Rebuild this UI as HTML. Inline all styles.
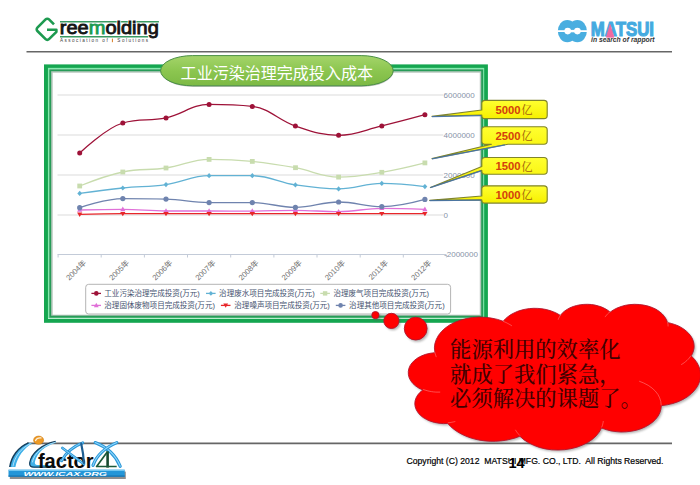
<!DOCTYPE html>
<html lang="zh"><head><meta charset="utf-8"><title>工业污染治理完成投入成本</title>
<style>
html,body{margin:0;padding:0;background:#fff}
body{width:700px;height:485px;overflow:hidden;position:relative}
svg{position:absolute;left:0;top:0;display:block}
svg{font-family:"Liberation Sans","Noto Sans CJK SC",sans-serif}
.cjk{font-family:"Liberation Sans","Noto Sans CJK SC",sans-serif}
.serif{font-family:"Liberation Serif","Noto Serif CJK SC",serif}
</style></head><body>
<svg width="700" height="485" viewBox="0 0 700 485">
<defs>
<linearGradient id="pill" x1="0" y1="0" x2="0" y2="1"><stop offset="0" stop-color="#a4d46a"/><stop offset=".5" stop-color="#8cc650"/><stop offset="1" stop-color="#7cb944"/></linearGradient>
<linearGradient id="yel" x1="0" y1="0" x2="0" y2="1"><stop offset="0" stop-color="#ffff30"/><stop offset="1" stop-color="#f6f000"/></linearGradient>
<filter id="blur1" x="-20%" y="-20%" width="140%" height="140%"><feGaussianBlur stdDeviation="1.2"/></filter>
<filter id="blur2" x="-20%" y="-20%" width="140%" height="140%"><feGaussianBlur stdDeviation="0.6"/></filter>
</defs>
<rect width="700" height="485" fill="#fff"/>

<!-- header / footer rules -->
<path d="M26.5 51.7H672" stroke="#666" stroke-width="1.6"/>
<path d="M27 443.4H672" stroke="#666" stroke-width="1.6"/>

<!-- green double frame -->
<rect x="44" y="64.4" width="443.9" height="258.4" fill="#fff"/>
<rect x="51.9" y="71.9" width="428.7" height="243.6" fill="none" stroke="#5d7f6a" stroke-width="1.6" opacity=".45" filter="url(#blur2)"/>
<rect x="46" y="66.4" width="439.9" height="254.4" fill="none" stroke="#15a650" stroke-width="4"/>
<rect x="48.55" y="68.45" width="435.05" height="249.25" fill="none" stroke="#86eaae" stroke-width="1.2"/>
<rect x="50.2" y="70.25" width="431.95" height="246.45" fill="none" stroke="#279c58" stroke-width="2"/>
<!-- chart -->
<g stroke="#d4d4d4" stroke-width=".85" fill="none"><path d="M57.5 95H443.2"/><path d="M57.5 135H443.2"/><path d="M57.5 175H443.2"/><path d="M57.5 215H443.2"/></g>
<g stroke="#c3cbd8" stroke-width="1" fill="none"><path d="M57.5 254.5H446"/><path d="M58.1 254.5v3"/><path d="M101.2 254.5v3"/><path d="M144.4 254.5v3"/><path d="M187.5 254.5v3"/><path d="M230.7 254.5v3"/><path d="M273.9 254.5v3"/><path d="M317 254.5v3"/><path d="M360.2 254.5v3"/><path d="M403.3 254.5v3"/><path d="M446.4 254.5v3"/></g>
<g font-size="8" fill="#8793a8" dominant-baseline="central">
<text x="443.6" y="95.3">6000000</text><text x="443.6" y="135.3">4000000</text><text x="443.6" y="175.3">2000000</text><text x="443.6" y="215.3">0</text><text x="444.1" y="254.8">-2000000</text>
</g>
<g fill="#9e1238" stroke="none"><path d="M79.7 153C79.7 153 105.6 128.1 122.8 123C140.1 117.9 148.7 121.6 166 117.9C183.3 114.2 191.9 104.4 209.1 104.4C226.4 104.4 235 104.4 252.3 106.4C269.6 108.4 278.2 120.3 295.4 126.1C312.7 131.9 321.3 135.3 338.6 135.3C355.9 135.3 364.5 130 381.8 125.9C399 121.8 424.9 114.7 424.9 114.7" fill="none" stroke="#9e1238" stroke-width="1.3"/><circle cx="79.7" cy="153" r="2.5"/><circle cx="122.8" cy="123" r="2.5"/><circle cx="166" cy="117.9" r="2.5"/><circle cx="209.1" cy="104.4" r="2.5"/><circle cx="252.3" cy="106.4" r="2.5"/><circle cx="295.4" cy="126.1" r="2.5"/><circle cx="338.6" cy="135.3" r="2.5"/><circle cx="381.8" cy="125.9" r="2.5"/><circle cx="424.9" cy="114.7" r="2.5"/></g>
<g fill="#62b2d4" stroke="none"><path d="M79.7 193.4C79.7 193.4 105.6 189.8 122.8 188C140.1 186.2 148.7 187.1 166 184.6C183.3 182.1 191.9 175.7 209.1 175.7C226.4 175.7 235 175.7 252.3 175.7C269.6 175.7 278.2 182.3 295.4 184.9C312.7 187.5 321.3 188.9 338.6 188.9C355.9 188.9 364.5 183.4 381.8 183.4C399 183.4 424.9 186.6 424.9 186.6" fill="none" stroke="#62b2d4" stroke-width="1.3"/><path d="M79.7 190.8l2.4 2.6l-2.4 2.6l-2.4-2.6z"/><path d="M122.8 185.4l2.4 2.6l-2.4 2.6l-2.4-2.6z"/><path d="M166 182l2.4 2.6l-2.4 2.6l-2.4-2.6z"/><path d="M209.1 173.1l2.4 2.6l-2.4 2.6l-2.4-2.6z"/><path d="M252.3 173.1l2.4 2.6l-2.4 2.6l-2.4-2.6z"/><path d="M295.4 182.3l2.4 2.6l-2.4 2.6l-2.4-2.6z"/><path d="M338.6 186.3l2.4 2.6l-2.4 2.6l-2.4-2.6z"/><path d="M381.8 180.8l2.4 2.6l-2.4 2.6l-2.4-2.6z"/><path d="M424.9 184l2.4 2.6l-2.4 2.6l-2.4-2.6z"/></g>
<g fill="#c8dcae" stroke="none"><path d="M79.7 186C79.7 186 105.6 175.6 122.8 172C140.1 168.4 148.7 170.5 166 168C183.3 165.5 191.9 159.4 209.1 159.4C226.4 159.4 235 159.7 252.3 161.4C269.6 163.1 278.2 164.6 295.4 167.7C312.7 170.8 321.3 177.1 338.6 177.1C355.9 177.1 364.5 175.1 381.8 172.3C399 169.5 424.9 162.9 424.9 162.9" fill="none" stroke="#c8dcae" stroke-width="1.3"/><rect x="77.3" y="183.6" width="4.8" height="4.8"/><rect x="120.4" y="169.6" width="4.8" height="4.8"/><rect x="163.6" y="165.6" width="4.8" height="4.8"/><rect x="206.7" y="157" width="4.8" height="4.8"/><rect x="249.9" y="159" width="4.8" height="4.8"/><rect x="293.1" y="165.3" width="4.8" height="4.8"/><rect x="336.2" y="174.7" width="4.8" height="4.8"/><rect x="379.4" y="169.9" width="4.8" height="4.8"/><rect x="422.5" y="160.5" width="4.8" height="4.8"/></g>
<g fill="#e070d8" stroke="none"><path d="M79.7 210C79.7 210 105.6 209.4 122.8 209.4C140.1 209.4 148.7 211 166 211C183.3 211 191.9 211 209.1 211C226.4 211 235 211.1 252.3 211.1C269.6 211.1 278.2 210.3 295.4 210.3C312.7 210.3 321.3 211.7 338.6 211.7C355.9 211.7 364.5 208.3 381.8 208.3C399 208.3 424.9 209.4 424.9 209.4" fill="none" stroke="#e070d8" stroke-width="1.3"/><path d="M79.7 207.2l2.6 4.6h-5.2z"/><path d="M122.8 206.6l2.6 4.6h-5.2z"/><path d="M166 208.2l2.6 4.6h-5.2z"/><path d="M209.1 208.2l2.6 4.6h-5.2z"/><path d="M252.3 208.3l2.6 4.6h-5.2z"/><path d="M295.4 207.5l2.6 4.6h-5.2z"/><path d="M338.6 208.9l2.6 4.6h-5.2z"/><path d="M381.8 205.5l2.6 4.6h-5.2z"/><path d="M424.9 206.6l2.6 4.6h-5.2z"/></g>
<g fill="#e8262a" stroke="none"><path d="M79.7 214.3C79.7 214.3 105.6 213.7 122.8 213.7C140.1 213.7 148.7 213.7 166 213.7C183.3 213.7 191.9 213.7 209.1 213.7C226.4 213.7 235 213.7 252.3 213.7C269.6 213.7 278.2 213.7 295.4 213.7C312.7 213.7 321.3 213.7 338.6 213.7C355.9 213.7 364.5 213.7 381.8 213.7C399 213.7 424.9 213.7 424.9 213.7" fill="none" stroke="#e8262a" stroke-width="1.3"/><path d="M79.7 216.9l2.6-4.4h-5.2z"/><path d="M122.8 216.3l2.6-4.4h-5.2z"/><path d="M166 216.3l2.6-4.4h-5.2z"/><path d="M209.1 216.3l2.6-4.4h-5.2z"/><path d="M252.3 216.3l2.6-4.4h-5.2z"/><path d="M295.4 216.3l2.6-4.4h-5.2z"/><path d="M338.6 216.3l2.6-4.4h-5.2z"/><path d="M381.8 216.3l2.6-4.4h-5.2z"/><path d="M424.9 216.3l2.6-4.4h-5.2z"/></g>
<g fill="#6f83ae" stroke="none"><path d="M79.7 207.7C79.7 207.7 105.6 198.6 122.8 198.6C140.1 198.6 148.7 198.6 166 199.1C183.3 199.6 191.9 202.6 209.1 202.6C226.4 202.6 235 202.6 252.3 202.6C269.6 202.6 278.2 207.4 295.4 207.4C312.7 207.4 321.3 202 338.6 202C355.9 202 364.5 206.6 381.8 206.6C399 206.6 424.9 199.4 424.9 199.4" fill="none" stroke="#6f83ae" stroke-width="1.3"/><circle cx="79.7" cy="207.7" r="2.6"/><circle cx="122.8" cy="198.6" r="2.6"/><circle cx="166" cy="199.1" r="2.6"/><circle cx="209.1" cy="202.6" r="2.6"/><circle cx="252.3" cy="202.6" r="2.6"/><circle cx="295.4" cy="207.4" r="2.6"/><circle cx="338.6" cy="202" r="2.6"/><circle cx="381.8" cy="206.6" r="2.6"/><circle cx="424.9" cy="199.4" r="2.6"/></g>
<g font-size="7.7" fill="#707070" class="cjk"><text transform="translate(86.7 263.2) rotate(-45)" text-anchor="end">2004年</text><text transform="translate(129.8 263.2) rotate(-45)" text-anchor="end">2005年</text><text transform="translate(173 263.2) rotate(-45)" text-anchor="end">2006年</text><text transform="translate(216.1 263.2) rotate(-45)" text-anchor="end">2007年</text><text transform="translate(259.3 263.2) rotate(-45)" text-anchor="end">2008年</text><text transform="translate(302.4 263.2) rotate(-45)" text-anchor="end">2009年</text><text transform="translate(345.6 263.2) rotate(-45)" text-anchor="end">2010年</text><text transform="translate(388.8 263.2) rotate(-45)" text-anchor="end">2011年</text><text transform="translate(431.9 263.2) rotate(-45)" text-anchor="end">2012年</text></g>

<!-- legend -->
<rect x="85.7" y="284.3" width="364.9" height="29.7" rx="3" fill="#fff" stroke="#b4b4b4" stroke-width="1"/>
<g font-size="7.55" fill="#44516e" class="cjk" dominant-baseline="central">
<g fill="#9e1238"><path d="M91.4 293.4h9.6" stroke="#9e1238" stroke-width="1.3"/><circle cx="96.3" cy="293.4" r="2.3"/></g>
<text x="104.3" y="293.6">工业污染治理完成投资(万元)</text>
<g fill="#62b2d4"><path d="M206 293.4h9.6" stroke="#62b2d4" stroke-width="1.3"/><path d="M210.9 291l2.2 2.4l-2.2 2.4l-2.2-2.4z"/></g>
<text x="219.1" y="293.6">治理废水项目完成投资(万元)</text>
<g fill="#c8dcae"><path d="M320.3 293.4h9.6" stroke="#c8dcae" stroke-width="1.3"/><rect x="322.9" y="291.2" width="4.4" height="4.4"/></g>
<text x="333.4" y="293.6">治理废气项目完成投资(万元)</text>
<g fill="#e070d8"><path d="M91.4 305.4h9.6" stroke="#e070d8" stroke-width="1.3"/><path d="M96.3 302.8l2.4 4.4h-4.8z"/></g>
<text x="104.3" y="305.6">治理固体废物项目完成投资(万元)</text>
<g fill="#e8262a"><path d="M220.9 305.4h9.6" stroke="#e8262a" stroke-width="1.3"/><path d="M225.7 307.8l2.4-4.2h-4.8z"/></g>
<text x="234.3" y="305.6">治理噪声项目完成投资(万元)</text>
<g fill="#6f83ae"><path d="M335.8 305.4h9.6" stroke="#6f83ae" stroke-width="1.3"/><circle cx="340.6" cy="305.4" r="2.3"/></g>
<text x="349.1" y="305.6">治理其他项目完成投资(万元)</text>
</g>

<!-- title pill -->
<rect x="161.4" y="56.6" width="232" height="30.4" rx="32" ry="15.2" fill="#555" opacity=".35" filter="url(#blur2)"/>
<rect x="160.6" y="55.6" width="232.6" height="30.2" rx="32" ry="15.1" fill="url(#pill)" stroke="#4a8f46" stroke-width="1"/>
<text x="276.8" y="72.9" font-size="16.05" fill="#fff" text-anchor="middle" dominant-baseline="central" class="cjk">工业污染治理完成投入成本</text>

<!-- callouts -->
<g stroke="#80842c" stroke-width="1.15" fill="url(#yel)" stroke-linejoin="round">
<path d="M485 100.4h59a3.2 3.2 0 0 1 3.2 3.2v11.8a3.2 3.2 0 0 1-3.2 3.2h-59a3.2 3.2 0 0 1-3.2-3.2v-0.4L432 116.4L481.8 110v-6.4a3.2 3.2 0 0 1 3.2-3.2z"/>
<path d="M485 126.7h59a3.2 3.2 0 0 1 3.2 3.2v11.2a3.2 3.2 0 0 1-3.2 3.2h-36L432 158.6L491.5 144.3h-6.5a3.2 3.2 0 0 1-3.2-3.2v-11.2a3.2 3.2 0 0 1 3.2-3.2z"/>
<path d="M485 157.5h59a3.2 3.2 0 0 1 3.2 3.2v10.3a3.2 3.2 0 0 1-3.2 3.2h-59a3.2 3.2 0 0 1-3.2-3.2v-0.6L430.4 187.5L481.8 166.5v-5.8a3.2 3.2 0 0 1 3.2-3.2z"/>
<path d="M485 185.8h59a3.2 3.2 0 0 1 3.2 3.2v10.9a3.2 3.2 0 0 1-3.2 3.2h-59a3.2 3.2 0 0 1-3.2-3.2v0L429.7 200.4L481.8 196v-7a3.2 3.2 0 0 1 3.2-3.2z"/>
</g>
<g stroke="#3f6fb0" stroke-width="1.25" fill="none" opacity=".85">
<path d="M432 116.7L481 115.6"/><path d="M432 158.8L505 144.9"/><path d="M430.4 187.7L481 170.9"/><path d="M429.7 200.7L481 200.2"/>
</g>
<g font-size="11.3" font-weight="bold" fill="#d4400c" dominant-baseline="central">
<text x="495.4" y="109.9">5000<tspan font-weight="normal" font-size="11.2" fill="#a0600c" class="serif" dx=".8" dy=".5">亿</tspan></text>
<text x="495.4" y="135.9">2500<tspan font-weight="normal" font-size="11.2" fill="#a0600c" class="serif" dx=".8" dy=".5">亿</tspan></text>
<text x="495.4" y="166.3">1500<tspan font-weight="normal" font-size="11.2" fill="#a0600c" class="serif" dx=".8" dy=".5">亿</tspan></text>
<text x="495.4" y="194.9">1000<tspan font-weight="normal" font-size="11.2" fill="#a0600c" class="serif" dx=".8" dy=".5">亿</tspan></text>
</g>

<!-- cloud -->
<g>
<g fill="#5a5a5a" opacity=".45" filter="url(#blur1)" transform="translate(1.5 1.8)">
<circle cx="375.4" cy="315.1" r="3.6"/><circle cx="391.4" cy="320.9" r="7.6"/><circle cx="415.7" cy="328.6" r="11.4"/>
<path d="M434.9 352.3L434.4 347.9L434.9 343.6L436.3 339.4L438.5 335.3L441.5 331.5L445.3 328L449.7 324.9L454.8 322.3L460.3 320.2L466.2 318.6L472.4 317.5L478.8 317.1L485.1 317.3L491.4 318.1L497.5 319.4L503.2 321.3L505.3 318.9L507.9 316.7L510.9 314.6L514.1 312.9L517.7 311.3L521.5 310.1L525.4 309.2L529.5 308.6L533.7 308.3L537.9 308.4L542 308.8L546.1 309.5L550 310.6L553.7 311.9L557.1 313.5L560.3 315.4L562.2 313.2L564.4 311.2L567.1 309.4L570 307.8L573.2 306.5L576.6 305.5L580.2 304.8L583.9 304.4L587.6 304.3L591.4 304.5L595 305.1L598.5 306L601.8 307.1L604.9 308.6L607.7 310.2L610.1 312.2L613.4 309.9L617.1 308L621.1 306.5L625.4 305.3L629.9 304.6L634.5 304.3L639.2 304.5L643.7 305.1L648.1 306.1L652.2 307.5L656 309.3L659.4 311.5L662.3 314L664.6 316.7L666.4 319.6L667.5 322.6L671.2 323.4L674.7 324.5L678 325.8L681.1 327.4L683.9 329.2L686.4 331.2L688.6 333.3L690.5 335.6L692 338L693.1 340.5L693.8 343.1L694.1 345.7L694 348.3L693.4 350.9L692.5 353.5L691.2 355.9L694.5 359.3L697.1 362.9L699 366.8L700.2 370.7L700.6 374.8L700.3 378.8L699.1 382.8L697.3 386.6L694.6 390.3L691.4 393.6L687.5 396.7L683 399.4L678.1 401.7L672.8 403.5L667.2 404.8L661.3 405.7L660.9 409.2L659.9 412.6L658.2 415.9L655.8 419.1L652.9 421.9L649.4 424.5L645.4 426.8L641.1 428.7L636.4 430.2L631.4 431.2L626.3 431.8L621.1 432L616 431.6L610.9 430.9L606.1 429.6L601.5 428L599.2 432.1L596.1 435.9L592.2 439.4L587.7 442.5L582.5 445.1L576.9 447.2L570.8 448.7L564.6 449.7L558.1 450L551.7 449.8L545.4 448.9L539.4 447.4L533.7 445.3L528.5 442.7L523.8 439.7L519.9 436.2L515.3 437.9L510.5 439.2L505.6 440.3L500.5 440.9L495.3 441.3L490.1 441.3L485 440.9L479.9 440.2L474.9 439.1L470.1 437.7L465.6 436L461.3 434L457.4 431.7L453.8 429.2L450.5 426.4L447.7 423.4L443.3 423.6L438.8 423.2L434.5 422.4L430.4 421.2L426.6 419.5L423.2 417.5L420.3 415.2L418 412.6L416.3 409.8L415.2 406.8L414.8 403.8L415.1 400.8L416.1 397.8L417.7 395L420 392.3L422.8 390L419 388.2L415.7 386L412.9 383.5L410.7 380.7L409.2 377.8L408.4 374.7L408.3 371.5L408.9 368.4L410.2 365.4L412.2 362.6L414.9 360L418 357.7L421.7 355.8L425.7 354.3L430.1 353.3L434.6 352.7Z"/></g>
<g fill="#ff0000" stroke="#b2142c" stroke-width=".9">
<circle cx="375.4" cy="315.1" r="3.6"/><circle cx="391.4" cy="320.9" r="7.6"/><circle cx="415.7" cy="328.6" r="11.4"/>
<path d="M434.9 352.3L434.4 347.9L434.9 343.6L436.3 339.4L438.5 335.3L441.5 331.5L445.3 328L449.7 324.9L454.8 322.3L460.3 320.2L466.2 318.6L472.4 317.5L478.8 317.1L485.1 317.3L491.4 318.1L497.5 319.4L503.2 321.3L505.3 318.9L507.9 316.7L510.9 314.6L514.1 312.9L517.7 311.3L521.5 310.1L525.4 309.2L529.5 308.6L533.7 308.3L537.9 308.4L542 308.8L546.1 309.5L550 310.6L553.7 311.9L557.1 313.5L560.3 315.4L562.2 313.2L564.4 311.2L567.1 309.4L570 307.8L573.2 306.5L576.6 305.5L580.2 304.8L583.9 304.4L587.6 304.3L591.4 304.5L595 305.1L598.5 306L601.8 307.1L604.9 308.6L607.7 310.2L610.1 312.2L613.4 309.9L617.1 308L621.1 306.5L625.4 305.3L629.9 304.6L634.5 304.3L639.2 304.5L643.7 305.1L648.1 306.1L652.2 307.5L656 309.3L659.4 311.5L662.3 314L664.6 316.7L666.4 319.6L667.5 322.6L671.2 323.4L674.7 324.5L678 325.8L681.1 327.4L683.9 329.2L686.4 331.2L688.6 333.3L690.5 335.6L692 338L693.1 340.5L693.8 343.1L694.1 345.7L694 348.3L693.4 350.9L692.5 353.5L691.2 355.9L694.5 359.3L697.1 362.9L699 366.8L700.2 370.7L700.6 374.8L700.3 378.8L699.1 382.8L697.3 386.6L694.6 390.3L691.4 393.6L687.5 396.7L683 399.4L678.1 401.7L672.8 403.5L667.2 404.8L661.3 405.7L660.9 409.2L659.9 412.6L658.2 415.9L655.8 419.1L652.9 421.9L649.4 424.5L645.4 426.8L641.1 428.7L636.4 430.2L631.4 431.2L626.3 431.8L621.1 432L616 431.6L610.9 430.9L606.1 429.6L601.5 428L599.2 432.1L596.1 435.9L592.2 439.4L587.7 442.5L582.5 445.1L576.9 447.2L570.8 448.7L564.6 449.7L558.1 450L551.7 449.8L545.4 448.9L539.4 447.4L533.7 445.3L528.5 442.7L523.8 439.7L519.9 436.2L515.3 437.9L510.5 439.2L505.6 440.3L500.5 440.9L495.3 441.3L490.1 441.3L485 440.9L479.9 440.2L474.9 439.1L470.1 437.7L465.6 436L461.3 434L457.4 431.7L453.8 429.2L450.5 426.4L447.7 423.4L443.3 423.6L438.8 423.2L434.5 422.4L430.4 421.2L426.6 419.5L423.2 417.5L420.3 415.2L418 412.6L416.3 409.8L415.2 406.8L414.8 403.8L415.1 400.8L416.1 397.8L417.7 395L420 392.3L422.8 390L419 388.2L415.7 386L412.9 383.5L410.7 380.7L409.2 377.8L408.4 374.7L408.3 371.5L408.9 368.4L410.2 365.4L412.2 362.6L414.9 360L418 357.7L421.7 355.8L425.7 354.3L430.1 353.3L434.6 352.7Z"/></g>
<path d="M440.2 392.1L438 392.1L435.8 392.1L433.5 391.9L431.4 391.6L429.2 391.2L427.1 390.7L425.1 390.1L423.1 389.4M455.3 421.5L454.4 421.7L453.5 421.9L452.6 422.1L451.6 422.3L450.7 422.5L449.8 422.6L448.8 422.7L447.8 422.8M519.9 435.6L519.2 434.9L518.6 434.2L518 433.5L517.4 432.8L516.8 432L516.3 431.3L515.8 430.5L515.4 429.8M603.3 421L603.2 421.8L603.1 422.6L602.9 423.4L602.7 424.3L602.5 425.1L602.2 425.9L601.9 426.7L601.5 427.4M639.2 381.2L643.9 383.1L648.3 385.4L652.1 388.1L655.3 391.1L657.9 394.4L659.7 397.9L660.8 401.6L661.2 405.3M691 355.6L690.1 356.9L689.2 358.1L688.1 359.3L686.9 360.5L685.6 361.6L684.2 362.7L682.8 363.7L681.2 364.6M667.5 322.1L667.7 322.6L667.8 323.2L667.9 323.7L668 324.2L668 324.8L668 325.3L668.1 325.8L668.1 326.4M605 317.1L605.5 316.4L606.1 315.7L606.7 315L607.3 314.3L607.9 313.6L608.6 313L609.3 312.3L610.1 311.7M558.2 319.7L558.4 319.1L558.6 318.5L558.9 317.9L559.2 317.3L559.5 316.7L559.8 316.2L560.2 315.6L560.6 315M503.1 321.3L504.3 321.8L505.5 322.3L506.6 322.8L507.7 323.4L508.8 324L509.9 324.6L510.9 325.2L511.9 325.9M436.4 357.1L436.1 356.5L435.9 355.9L435.7 355.3L435.5 354.7L435.3 354.1L435.1 353.5L435 352.9L434.9 352.3" fill="none" stroke="#ff8a8a" stroke-width=".8" opacity=".7"/>
</g>
<g font-size="21.3" fill="#420000" font-weight="500" class="serif">
<text x="450.1" y="356.8">能源利用的效率化</text>
<text x="450.1" y="381.6">就成了我们紧急，</text>
<text x="450.1" y="406.2">必须解决的课题了。</text>
</g>

<!-- footer text -->
<text x="406.5" y="463.6" font-size="9" fill="#000" stroke="#000" stroke-width=".2" textLength="257" lengthAdjust="spacingAndGlyphs" xml:space="preserve">Copyright (C) 2012  MATSUI MFG. CO., LTD.  All Rights Reserved.</text>
<text x="516.6" y="468.4" font-size="14.6" font-weight="bold" fill="#000" text-anchor="middle">14</text>

<g>
<path d="M54 24.4L49 19.4A2.4 2.4 0 0 0 45.6 19.4L37.4 27.6A2.4 2.4 0 0 0 37.4 31L45.6 39.2A2.4 2.4 0 0 0 49 39.2L56.4 31.8V29.7H47" fill="none" stroke="#1d9a50" stroke-width="2.6" stroke-linejoin="round"/>
<path d="M60 21.7H158.9" stroke="#3a9a62" stroke-width="1.4"/>
<path d="M60 36.8H148.2" stroke="#3a9a62" stroke-width="1.4"/>
<text x="59.8" y="34.2" font-size="17.6" fill="#fff" textLength="99" lengthAdjust="spacingAndGlyphs" stroke="#fff" stroke-width="2">reemolding</text>
<text x="59.8" y="34.2" font-size="17.6" fill="#151515" stroke="#151515" stroke-width=".8" textLength="99" lengthAdjust="spacingAndGlyphs">ree<tspan fill="#1d9a50" stroke="#1d9a50">m</tspan>olding</text>
<text x="60" y="42.4" font-size="4.6" fill="#3a3a3a" textLength="88" lengthAdjust="spacing" xml:space="preserve">Association of   Solutions</text>
<path d="M112.4 38.6v3.6" stroke="#d87a20" stroke-width="1"/>
</g>
<g>
<g fill="#49aee0"><ellipse cx="567.3" cy="31.1" rx="9.5" ry="11.2"/><ellipse cx="577.4" cy="31.1" rx="9.5" ry="11.2"/></g>
<g fill="#fff"><rect x="557" y="30.2" width="31" height="1.8"/><circle cx="567.7" cy="31.1" r="3.3"/><circle cx="577.4" cy="31.1" r="3.3"/><rect x="567.7" y="29.9" width="9.7" height="2.4"/></g>
<text x="590.8" y="36.4" font-size="20.6" font-weight="bold" fill="#44aae0" stroke="#44aae0" stroke-width="1.15" textLength="63.2" lengthAdjust="spacingAndGlyphs">MATSUI</text>
<path d="M606.4 37.2L610.1 24.6L613.9 37.2z" fill="#f06aa0" stroke="#f06aa0" stroke-width=".8" stroke-linejoin="round"/>
<text x="591" y="42.3" font-size="6.5" font-weight="bold" font-style="italic" fill="#333" textLength="63.6" lengthAdjust="spacingAndGlyphs">in search of rapport</text>
</g>
<g>
<rect x="9.8" y="471.6" width="116" height="7.4" fill="#444" opacity=".6" filter="url(#blur2)"/>
<!-- i crescent -->
<path d="M9.6 467C11 457 18 447 28.6 442.8L32.4 443.6C24 448 17.5 457 15.4 467Z" fill="#3fb0e8"/>
<path d="M9.8 467C11.2 457 18 447 28.6 442.9" fill="none" stroke="#173f5c" stroke-width="1.5"/>
<path d="M12.9 466.5C14.5 457 21 448 30.6 443.6" fill="none" stroke="#c8ecff" stroke-width=".8"/>
<!-- C crescent -->
<path d="M55.8 441.2C42 444 31 453 29.4 463C29.2 466.4 31 467.5 34 467.5L54.5 467.5L54.5 465.3L37.4 465.1C35 464.9 34.4 463.4 35.1 461C37.3 452.6 45.2 445.6 56 442.7Z" fill="#3fb0e8"/>
<path d="M55.6 441.4C42 444.2 31.2 453 29.7 463C29.5 466.2 31 467.2 34 467.2L54 467.2" fill="none" stroke="#173f5c" stroke-width="1.3"/>
<path d="M55.6 442.2C43.5 445.2 33.8 453.2 32.4 462.4" fill="none" stroke="#c8ecff" stroke-width=".8"/>
<text x="37.9" y="467.6" font-size="20.4" font-weight="bold" fill="#0a0a0a" textLength="55.8" lengthAdjust="spacingAndGlyphs">factor</text>
<g fill="none" stroke-linecap="round">
<!-- A -->
<path d="M82.7 442.8C73 446.5 65.5 453 61.6 460.8" stroke="#2a96d6" stroke-width="3"/>
<path d="M82.7 442.8C73 446.5 65.5 453 61.6 460.8" stroke="#8fd8ff" stroke-width="1"/>
<path d="M62.4 448L83.8 464" stroke="#2a96d6" stroke-width="2.8"/>
<path d="M62.4 448L83.8 464" stroke="#8fd8ff" stroke-width=".9"/>
<path d="M81.2 443.6C82.6 450 83.6 456.5 83.8 463" stroke="#1f5f92" stroke-width="2.2"/>
<!-- X -->
<path d="M95.2 442.6C106.5 447 115.5 455 120.2 466.3" stroke="#2a96d6" stroke-width="3.2"/>
<path d="M95.2 442.6C106.5 447 115.5 455 120.2 466.3" stroke="#8fd8ff" stroke-width="1.1"/>
<path d="M116.8 442.6C105.5 447.5 96.5 455.5 93 465.4" stroke="#2a96d6" stroke-width="3.2"/>
<path d="M116.8 442.6C105.5 447.5 96.5 455.5 93 465.4" stroke="#8fd8ff" stroke-width="1.1"/>
</g>
<path d="M107.6 451.4V467.6" fill="none" stroke="#174a30" stroke-width="2.6"/><path d="M107.6 451.6L96.6 466.5H116.7" fill="none" stroke="#1c5a3a" stroke-width="1.7" stroke-linejoin="round"/>
<ellipse cx="38.6" cy="440.2" rx="5" ry="4.1" fill="#ec9a26" stroke="#d07c10" stroke-width=".6"/>
<path d="M35.6 440.6C36.4 438.6 38.6 437.6 41 437.9" fill="none" stroke="#fff" stroke-width="1.3" opacity=".85" stroke-linecap="round"/>
<rect x="8.5" y="469.7" width="116.2" height="7" fill="#2396d8"/>
<rect x="8.5" y="469.7" width="116.2" height="1.2" fill="#7cccf4"/>
<rect x="8.5" y="475.5" width="116.2" height="1.2" fill="#1672ae"/>
<text x="23.4" y="475.5" font-size="5.2" font-weight="bold" font-style="italic" fill="#fff" textLength="83.6" lengthAdjust="spacingAndGlyphs">WWW.ICAX.ORG</text>
</g>
</svg>
</body></html>
